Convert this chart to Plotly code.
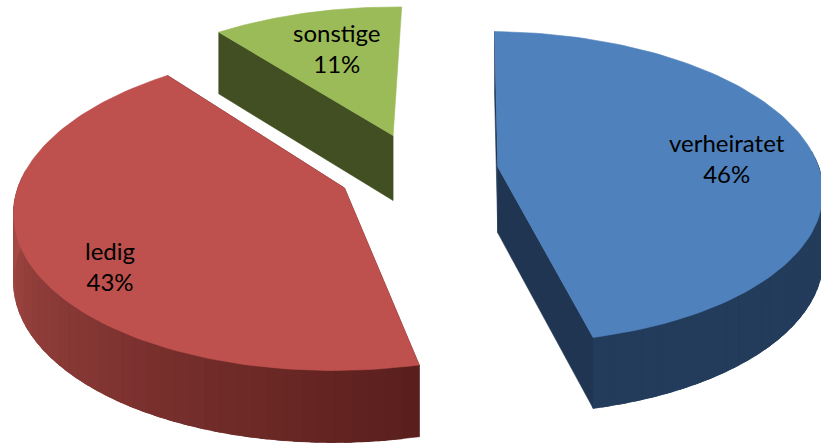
import numpy as np
import plotly.graph_objects as go

categories = ["verheiratet", "ledig", "sonstige"]
values = [46, 43, 11]
top_colors = ["#4F81BD", "#BE504D", "#9BBB59"]
edge_colors = [("#223A58", "#253E5E"), ("#5A1F1D", "#A84B47"), ("#414F22", "#414F22")]
face_colors = ["#1F3552", "#5A1F1D", "#414F22"]
label_pos = [(727, 158), (110, 266), (337, 48)]

W, H = 821, 443
CX, CY, F, B, EXPL, K, DEPTH, ROT = 418, 171, 322, 154, 0.25, 0.13, 66, 1.2


def project(x, y, z=0.0):
    s = 1 / (1 + K * y)
    return CX + F * x * s, CY - B * y * s + DEPTH * z * s ** 0.55


def hex2rgb(c):
    return np.array([int(c[i:i + 2], 16) for i in (1, 3, 5)], float)


def mix(a, b, t):
    v = hex2rgb(a) * (1 - t) + hex2rgb(b) * t
    return "rgb(%d,%d,%d)" % tuple(v)


fig = go.Figure()


def poly(px, py, color):
    fig.add_trace(go.Scatter(x=list(px) + [px[0]], y=list(py) + [py[0]], mode="lines", fill="toself",
                             fillcolor=color, line=dict(color=color, width=0.6),
                             hoverinfo="skip", showlegend=False))


total = sum(values)
start = ROT
wedges = []
for v in values:
    sweep = 360.0 * v / total
    wedges.append((start, start + sweep))
    start += sweep

for i in [2, 1, 0]:
    a0, a1 = np.radians(wedges[i])
    mid = (a0 + a1) / 2
    ox, oy = EXPL * np.sin(mid), EXPL * np.cos(mid)
    th = np.linspace(a0, a1, 121)
    ax, ay = ox + np.sin(th), oy + np.cos(th)

    # straight cut faces (the far cut of the small wedge faces away from the viewer)
    for t in ((a0,) if i == 2 else (a0, a1)):
        ex, ey = ox + np.sin(t), oy + np.cos(t)
        p = [project(ox, oy, 0), project(ex, ey, 0), project(ex, ey, 1), project(ox, oy, 1)]
        poly([q[0] for q in p], [q[1] for q in p], face_colors[i])

    # curved rim: overlapping bands for the gradient
    c_dark, c_light = edge_colors[i]
    for j in range(0, len(th) - 1, 2):
        k = min(j + 5, len(th) - 1)
        if np.cos(th[j]) > 0.0 and np.cos(th[k]) > 0.0:
            continue
        p = [project(ax[n], ay[n], 0) for n in range(j, k + 1)] + [project(ax[n], ay[n], 1) for n in range(k, j - 1, -1)]
        deg = np.degrees(th[j])
        t = np.clip((deg - 165.6) / 105, 0, 1) if i == 1 else (0.5 if i == 0 else 0)
        poly([q[0] for q in p], [q[1] for q in p], mix(c_dark, c_light, t))

    # top
    p = [project(ox, oy)] + [project(a, b) for a, b in zip(ax, ay)]
    poly([q[0] for q in p], [q[1] for q in p], top_colors[i])

annotations = [dict(x=x, y=y, text=f"{c}<br>{round(100 * v / total)}%", showarrow=False,
                    font=dict(family="Lato", size=24, color="#000000"), xref="x", yref="y")
               for c, v, (x, y) in zip(categories, values, label_pos)]

fig.update_layout(width=W, height=H, margin=dict(l=0, r=0, t=0, b=0), paper_bgcolor="white", plot_bgcolor="white",
                  xaxis=dict(range=[0, W], visible=False, fixedrange=True),
                  yaxis=dict(range=[H, 0], visible=False, fixedrange=True),
                  annotations=annotations, showlegend=False)
fig.write_html("out.html", config=dict(displayModeBar=False),
               post_script="document.body.style.margin='0';document.body.style.overflow='hidden';")
